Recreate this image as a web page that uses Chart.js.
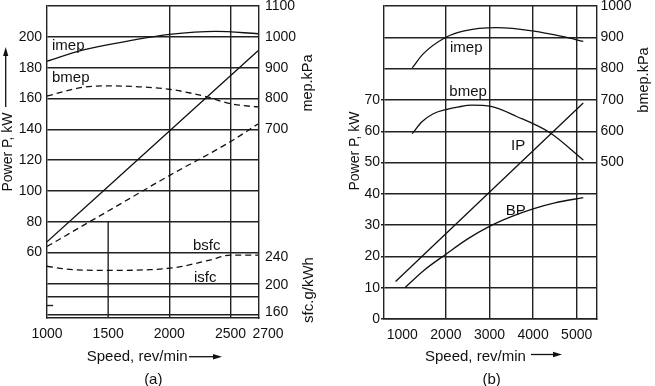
<!DOCTYPE html>
<html><head><meta charset="utf-8">
<script src="https://cdn.jsdelivr.net/npm/chart.js@4.4.1/dist/chart.umd.min.js"></script>
<style>
html,body{margin:0;padding:0;background:#fff;}
#wrap{position:relative;width:655px;height:386px;overflow:hidden;font-family:"Liberation Sans",Arial,sans-serif;color:#111;}
canvas{position:absolute;top:0;}
.t{position:absolute;white-space:nowrap;font-size:15px;line-height:1;transform:translate(0,-50%);}
.c{transform:translate(-50%,-50%);}
.r{transform:translate(-50%,-50%) rotate(-90deg);}
svg{position:absolute;left:0;top:0;}
</style></head><body>
<div id="wrap">
<canvas id="ca" width="330" height="386" style="left:0px"></canvas>
<canvas id="cb" width="325" height="386" style="left:330px"></canvas>
<svg width="655" height="386">
  <line x1="5.7" y1="107" x2="5.7" y2="54" stroke="#111" stroke-width="1.3"/>
  <polygon points="5.7,47 3.1,56 8.3,56" fill="#111"/>
  <line x1="189" y1="356.7" x2="215" y2="356.7" stroke="#111" stroke-width="1.3"/>
  <polygon points="222,356.7 213,354 213,359.4" fill="#111"/>
  <line x1="531" y1="354.5" x2="555" y2="354.5" stroke="#111" stroke-width="1.3"/>
  <polygon points="562,354.5 553,351.8 553,357.2" fill="#111"/>
</svg>
<!-- panel (a) texts -->
<div class="t" style="left:52px;top:43.7px">imep</div>
<div class="t" style="left:52px;top:76.4px">bmep</div>
<div class="t" style="left:193px;top:244px">bsfc</div>
<div class="t" style="left:194px;top:275.7px">isfc</div>
<div class="t r" style="left:6.8px;top:151.7px;font-size:14px">Power P, kW</div>
<div class="t r" style="left:306.5px;top:83.3px;font-size:14.5px">mep.kPa</div>
<div class="t r" style="left:306.5px;top:290px">sfc.g/kWh</div>
<div class="t" style="left:86.7px;top:355.4px">Speed, rev/min</div>
<div class="t c" style="left:153.3px;top:377.5px">(a)</div>
<!-- panel (b) texts -->
<div class="t" style="left:450px;top:46.4px">imep</div>
<div class="t" style="left:449.3px;top:89.7px">bmep</div>
<div class="t" style="left:511px;top:144px">IP</div>
<div class="t" style="left:505.7px;top:208.7px">BP</div>
<div class="t r" style="left:353.6px;top:151px;font-size:14px">Power P, kW</div>
<div class="t r" style="left:643px;top:80px;font-size:14.5px">bmep.kPa</div>
<div class="t" style="left:425px;top:354.8px">Speed, rev/min</div>
<div class="t c" style="left:491.7px;top:377.5px">(b)</div>
</div>
<script>
// ---------- Panel (a) data ----------
const speedTicksA = [1000, 1500, 2000, 2500, 2700];
const speedTickLabelsA = ['1000', '1500', '2000', '2500', '2700'];
const powerTicksA = [60, 80, 100, 120, 140, 160, 180, 200];
const powerGridA = [20, 31.5, 40, 60, 80, 100, 120, 140, 160, 180, 200, 220];
const mepTicksA = [700, 800, 900, 1000, 1100];
const sfcTicksA = [160, 200, 240];

const imepSpeedA = [1000, 1290, 1700, 2000, 2380, 2725];
const imepA = [921, 957, 989, 1008, 1018, 1010];
const bmepSpeedA = [1000, 1290, 1510, 1750, 2000, 2300, 2490, 2680, 2725];
const bmepA = [808, 836, 841, 838, 830, 806, 784, 774, 773];
const ipSpeedA = [1000, 2725];
const ipA = [67, 191];
const bpSpeedA = [1000, 1500, 2000, 2500, 2725];
const bpA = [64, 87, 110, 132, 143.5];
const bsfcSpeedA = [1000, 1150, 1500, 1840, 2080, 2330, 2500, 2725];
const bsfcA = [227, 223, 221, 222, 226, 236, 243, 243];
// partial grid line at 1500 rev/min and a short tick mark (power, kW)
const gridSpeedA = [1500, 1500];
const gridPowerA = [80, 17.6];
const markSpeedA = [1000, 1050];
const markPowerA = [25.7, 25.7];

// ---------- Panel (b) data ----------
const speedTicksB = [1000, 2000, 3000, 4000, 5000];
const powerTicksB = [0, 10, 20, 30, 40, 50, 60, 70];
const powerGridB = [0, 10, 20, 30, 40, 50, 60, 70, 80, 90, 100];
const bmepTicksB = [500, 600, 700, 800, 900, 1000];

const imepSpeedB = [1227, 1479, 2000, 2397, 3164, 4020, 4692, 5151];
const imepB = [802, 847, 900, 920, 931, 920, 902, 887];
const bmepSpeedB = [1227, 1450, 1700, 2000, 2300, 2590, 3033, 3623, 4387, 5151];
const bmepB = [592, 630, 655, 669, 678, 683, 679, 647, 595, 508];
const ipSpeedB = [846, 5151];
const ipB = [12, 69];
const bpSpeedB = [1059, 1500, 2000, 2500, 3000, 3500, 4000, 4500, 5151];
const bpB = [10, 15.6, 20.7, 25.6, 29.6, 32.7, 35.2, 37.1, 38.8];

// ---------- styling ----------
const GRID = '#222';
const INK = '#111';
const CLEAR = 'rgba(0,0,0,0)';
const FONT = {family: '"Liberation Sans", Arial, sans-serif', size: 14};

function ds(xs, ys, axis, opts) {
  return Object.assign({
    data: xs.map((x, i) => ({x: x, y: ys[i]})),
    yAxisID: axis,
    borderColor: INK,
    borderWidth: 1.3,
    pointRadius: 0,
    fill: false,
    cubicInterpolationMode: 'monotone'
  }, opts || {});
}
const setTicks = arr => s => { s.ticks = arr.map(v => ({value: v})); };
const fitV = w => s => { s.width = w; s.paddingTop = 0; s.paddingBottom = 0; };
const fitH = h => s => { s.height = h; s.paddingLeft = 0; s.paddingRight = 0; };

// the two right-hand axes of panel (a) share one edge; widen their label boxes after layout
const rightBoxes = {
  id: 'rightBoxes',
  afterLayout(chart) {
    ['mep', 'sfc'].forEach(id => { const s = chart.scales[id]; s.right = s.left + 71; s.width = 71; });
  },
  beforeDraw(chart) {
    const items = chart.scales.x.getLabelItems();
    items.forEach(it => { if (it.label === '2700') it.options.translation[0] += 13; });
  }
};

new Chart(document.getElementById('ca'), {
  type: 'line',
  data: {datasets: [
    ds(imepSpeedA, imepA, 'mep'),
    ds(bmepSpeedA, bmepA, 'mep', {borderDash: [6, 4]}),
    ds(ipSpeedA, ipA, 'y'),
    ds(bpSpeedA, bpA, 'y', {borderDash: [6, 4]}),
    ds(bsfcSpeedA, bsfcA, 'sfc', {borderDash: [6, 4]}),
    ds(gridSpeedA, gridPowerA, 'y', {borderColor: GRID, borderWidth: 1.4}),
    ds(markSpeedA, markPowerA, 'y', {borderColor: GRID, borderWidth: 1.4})
  ]},
  options: {
    responsive: false, animation: false, devicePixelRatio: 1,
    layout: {padding: {top: 6, left: 0, right: 71, bottom: 0}},
    plugins: {legend: {display: false}, tooltip: {enabled: false}},
    scales: {
      x: {
        type: 'linear', position: 'bottom', min: 1000, max: 2733,
        afterBuildTicks: setTicks(speedTicksA),
        afterFit: fitH(68),
        ticks: {callback: v => { const i = speedTicksA.indexOf(v); return i >= 0 ? speedTickLabelsA[i] : ''; },
                font: FONT, color: INK, padding: 8, maxRotation: 0, autoSkip: false},
        grid: {color: c => (c.tick && (c.tick.value === 2000 || c.tick.value === 2500)) ? GRID : CLEAR,
               lineWidth: 1.4, drawTicks: false},
        border: {display: true, color: GRID, width: 1.4}
      },
      y: {
        type: 'linear', position: 'left', min: 17.6, max: 220,
        afterBuildTicks: setTicks(powerGridA),
        afterFit: fitV(47),
        ticks: {callback: v => powerTicksA.includes(v) ? String(v) : '', font: FONT, color: INK, padding: 5, autoSkip: false},
        grid: {color: GRID, lineWidth: 1.4, drawTicks: false},
        border: {display: true, color: GRID, width: 1.4}
      },
      mep: {
        type: 'linear', position: 'right', min: 88, max: 1100,
        afterBuildTicks: setTicks(mepTicksA),
        afterFit: fitV(0),
        ticks: {callback: v => String(v), font: FONT, color: INK, padding: 6, autoSkip: false},
        grid: {display: false, drawTicks: false},
        border: {display: false}
      },
      sfc: {
        type: 'linear', position: 'right', min: 152, max: 604,
        afterBuildTicks: setTicks(sfcTicksA),
        afterFit: fitV(0),
        ticks: {callback: v => String(v), font: FONT, color: INK, padding: 6, autoSkip: false},
        grid: {display: false, drawTicks: false},
        border: {display: true, color: GRID, width: 1.4}
      }
    }
  },
  plugins: [rightBoxes]
});

new Chart(document.getElementById('cb'), {
  type: 'line',
  data: {datasets: [
    ds(imepSpeedB, imepB, 'bmep'),
    ds(bmepSpeedB, bmepB, 'bmep'),
    ds(ipSpeedB, ipB, 'y'),
    ds(bpSpeedB, bpB, 'y')
  ]},
  options: {
    responsive: false, animation: false, devicePixelRatio: 1,
    layout: {padding: {top: 6, left: 0, right: 0, bottom: 0}},
    plugins: {legend: {display: false}, tooltip: {enabled: false}},
    scales: {
      x: {
        type: 'linear', position: 'bottom', min: 580, max: 5466,
        afterBuildTicks: setTicks(speedTicksB),
        afterFit: fitH(67),
        ticks: {callback: v => String(v), font: FONT, color: INK, padding: 8, maxRotation: 0, autoSkip: false},
        grid: {color: c => (c.tick && c.tick.value === 1000) ? CLEAR : GRID, lineWidth: 1.4, drawTicks: false},
        border: {display: true, color: GRID, width: 1.4}
      },
      y: {
        type: 'linear', position: 'left', min: 0, max: 100,
        afterBuildTicks: setTicks(powerGridB),
        afterFit: fitV(54),
        ticks: {callback: v => powerTicksB.includes(v) ? String(v) : '', font: FONT, color: INK, padding: 1, autoSkip: false},
        grid: {color: GRID, lineWidth: 1.4, drawTicks: true, tickLength: 3,
               tickColor: c => (c.tick && c.tick.value <= 70) ? GRID : CLEAR},
        border: {display: true, color: GRID, width: 1.4}
      },
      bmep: {
        type: 'linear', position: 'right', min: 0, max: 1000,
        afterBuildTicks: setTicks(bmepTicksB),
        afterFit: fitV(58),
        ticks: {callback: v => String(v), font: FONT, color: INK, padding: 3.5, autoSkip: false},
        grid: {display: false, drawTicks: false},
        border: {display: true, color: GRID, width: 1.4}
      }
    }
  }
});
</script>
</body></html>
